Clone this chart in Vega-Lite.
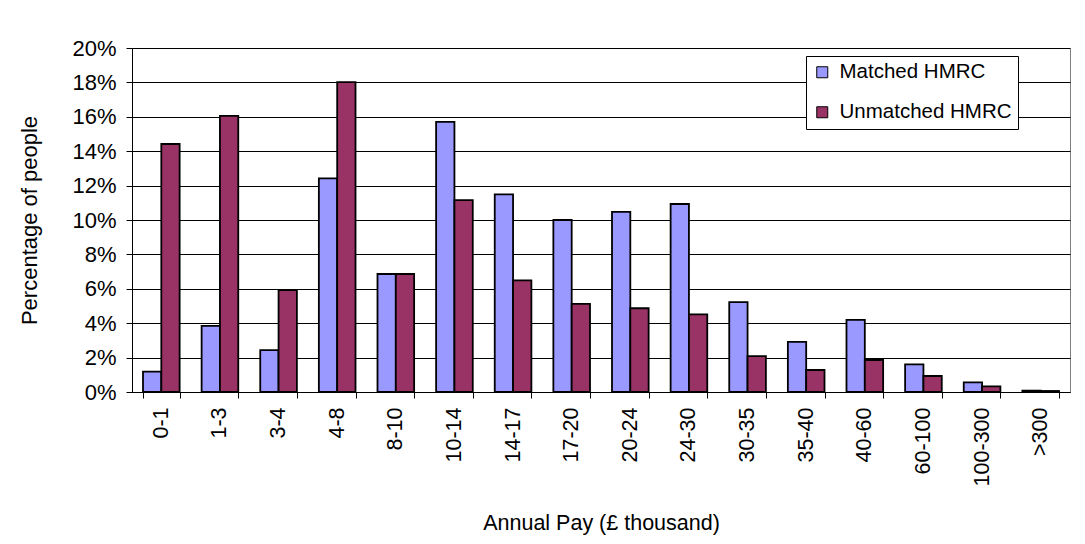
{
  "$schema": "https://vega.github.io/schema/vega-lite/v6.json",
  "width": 938,
  "height": 344,
  "autosize": {"type": "none"},
  "padding": {"left": 132, "top": 48, "right": 15, "bottom": 152},
  "background": "white",
  "config": {
    "font": "Liberation Sans",
    "view": {"stroke": "#808080", "strokeWidth": 1}
  },
  "data": {
    "values": [
      {"pay": "0-1", "group": "Matched  HMRC", "pct": 1.18},
      {"pay": "0-1", "group": "Unmatched HMRC", "pct": 14.42},
      {"pay": "1-3", "group": "Matched  HMRC", "pct": 3.84},
      {"pay": "1-3", "group": "Unmatched HMRC", "pct": 16.05},
      {"pay": "3-4", "group": "Matched  HMRC", "pct": 2.44},
      {"pay": "3-4", "group": "Unmatched HMRC", "pct": 5.93},
      {"pay": "4-8", "group": "Matched  HMRC", "pct": 12.42},
      {"pay": "4-8", "group": "Unmatched HMRC", "pct": 18.02},
      {"pay": "8-10", "group": "Matched  HMRC", "pct": 6.86},
      {"pay": "8-10", "group": "Unmatched HMRC", "pct": 6.86},
      {"pay": "10-14", "group": "Matched  HMRC", "pct": 15.7},
      {"pay": "10-14", "group": "Unmatched HMRC", "pct": 11.16},
      {"pay": "14-17", "group": "Matched  HMRC", "pct": 11.49},
      {"pay": "14-17", "group": "Unmatched HMRC", "pct": 6.49},
      {"pay": "17-20", "group": "Matched  HMRC", "pct": 10.0},
      {"pay": "17-20", "group": "Unmatched HMRC", "pct": 5.12},
      {"pay": "20-24", "group": "Matched  HMRC", "pct": 10.47},
      {"pay": "20-24", "group": "Unmatched HMRC", "pct": 4.87},
      {"pay": "24-30", "group": "Matched  HMRC", "pct": 10.93},
      {"pay": "24-30", "group": "Unmatched HMRC", "pct": 4.51},
      {"pay": "30-35", "group": "Matched  HMRC", "pct": 5.23},
      {"pay": "30-35", "group": "Unmatched HMRC", "pct": 2.09},
      {"pay": "35-40", "group": "Matched  HMRC", "pct": 2.91},
      {"pay": "35-40", "group": "Unmatched HMRC", "pct": 1.28},
      {"pay": "40-60", "group": "Matched  HMRC", "pct": 4.19},
      {"pay": "40-60", "group": "Unmatched HMRC", "pct": 1.86},
      {"pay": "60-100", "group": "Matched  HMRC", "pct": 1.61},
      {"pay": "60-100", "group": "Unmatched HMRC", "pct": 0.93},
      {"pay": "100-300", "group": "Matched  HMRC", "pct": 0.56},
      {"pay": "100-300", "group": "Unmatched HMRC", "pct": 0.33},
      {"pay": ">300", "group": "Matched  HMRC", "pct": 0.08},
      {"pay": ">300", "group": "Unmatched HMRC", "pct": 0.06}
    ]
  },
  "mark": {"type": "bar", "stroke": "black", "strokeWidth": 1.8},
  "encoding": {
    "x": {
      "field": "pay",
      "type": "nominal",
      "sort": ["0-1", "1-3", "3-4", "4-8", "8-10", "10-14", "14-17", "17-20", "20-24", "24-30", "30-35", "35-40", "40-60", "60-100", "100-300", ">300"],
      "scale": {"paddingInner": 0.375, "paddingOuter": 0.1875},
      "axis": {
        "title": "Annual Pay (£ thousand)",
        "titleFontSize": 21.5,
        "titleFontWeight": "normal",
        "titleColor": "black",
        "titlePadding": 27,
        "labelAngle": -90,
        "labelFontSize": 21.5,
        "labelColor": "black",
        "labelPadding": 9,
        "tickBand": "extent",
        "tickSize": 6,
        "tickColor": "black",
        "domainColor": "black",
        "grid": false
      }
    },
    "xOffset": {
      "field": "group",
      "type": "nominal",
      "sort": ["Matched  HMRC", "Unmatched HMRC"],
      "scale": {"paddingInner": 0, "paddingOuter": 0}
    },
    "y": {
      "field": "pct",
      "type": "quantitative",
      "scale": {"domain": [0, 20], "nice": false},
      "axis": {
        "title": "Percentage of people",
        "titleFontSize": 22,
        "titleFontWeight": "normal",
        "titleColor": "black",
        "titlePadding": 30,
        "values": [0, 2, 4, 6, 8, 10, 12, 14, 16, 18, 20],
        "labelExpr": "datum.value + '%'",
        "labelFontSize": 22,
        "labelColor": "black",
        "labelPadding": 10,
        "tickSize": 6,
        "tickColor": "black",
        "domainColor": "black",
        "grid": true,
        "gridColor": "black",
        "gridWidth": 1
      }
    },
    "color": {
      "field": "group",
      "type": "nominal",
      "sort": ["Matched  HMRC", "Unmatched HMRC"],
      "scale": {"domain": ["Matched  HMRC", "Unmatched HMRC"], "range": ["#9999FF", "#993366"]},
      "legend": {
        "title": null,
        "orient": "none",
        "legendX": 674,
        "legendY": 8,
        "strokeColor": "black",
        "fillColor": "white",
        "padding": 6,
        "symbolType": "square",
        "symbolSize": 121,
        "symbolStrokeColor": "black",
        "symbolStrokeWidth": 1,
        "labelFontSize": 20.5,
        "labelLimit": 400,
        "labelColor": "black",
        "labelOffset": 7,
        "rowPadding": 19
      }
    }
  }
}
